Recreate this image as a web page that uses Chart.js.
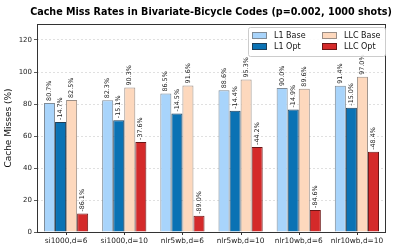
<!DOCTYPE html>
<html><head><meta charset="utf-8">
<script src="https://cdn.jsdelivr.net/npm/chart.js@4"></script>
<style>html,body{margin:0;padding:0;background:#fff}canvas{display:block}</style>
</head><body>
<canvas id="c" width="397" height="250"></canvas>
<script>
const categories = ['si1000,d=6','si1000,d=10','nlr5wb,d=6','nlr5wb,d=10','nlr10wb,d=6','nlr10wb,d=10'];
const l1Base = [80.7, 82.3, 86.5, 88.6, 90.0, 91.4];
const l1Opt = [68.8, 69.9, 74.0, 75.8, 76.6, 77.7];
const llcBase = [82.5, 90.3, 91.6, 95.3, 89.6, 97.0];
const llcOpt = [11.5, 56.3, 10.1, 53.2, 13.8, 50.1];
const l1Reduction = [-14.7, -15.1, -14.5, -14.4, -14.9, -15.0];
const llcReduction = [-86.1, -37.6, -89.0, -44.2, -84.6, -48.4];
const yTicks = [0, 20, 40, 60, 80, 100, 120];
const titleText = 'Cache Miss Rates in Bivariate-Bicycle Codes (p=0.002, 1000 shots)';
const yTitle = 'Cache Misses (%)';

const FONT = 'DejaVu Sans';
const colors = {
  l1Base: {bg:'#a8d4fb', bd:'#7f8b96'},
  l1Opt: {bg:'#0a72b4', bd:'#1d3e58'},
  llcBase: {bg:'#fdd8bd', bd:'#9a8e86'},
  llcOpt: {bg:'#d42a2a', bd:'#6b1616'}
};
const labelSets = [
  l1Base.map(v => v.toFixed(1) + '%'),
  l1Reduction.map(v => v.toFixed(1) + '%'),
  llcBase.map(v => v.toFixed(1) + '%'),
  llcReduction.map(v => v.toFixed(1) + '%')
];

const overlay = {
  id: 'overlay',
  afterDraw(chart) {
    const ctx = chart.ctx, a = chart.chartArea;
    ctx.save();
    ctx.fillStyle = '#000';
    ctx.font = 'bold 9.6px ' + FONT;
    ctx.textAlign = 'center'; ctx.textBaseline = 'middle';
    ctx.fillText(titleText, 211, 12);
    ctx.save();
    ctx.translate(9, (a.top + a.bottom) / 2);
    ctx.rotate(-Math.PI / 2);
    ctx.font = '9px ' + FONT;
    ctx.fillStyle = '#111';
    ctx.fillText(yTitle, 0, 0);
    ctx.restore();
    ctx.strokeStyle = '#333'; ctx.lineWidth = 1;
    ctx.strokeRect(Math.round(a.left) + 0.5, Math.round(a.top) + 0.5, Math.round(a.right - a.left) - 1, Math.round(a.bottom - a.top));
    // small x tick marks at category centers
    const xs = chart.scales.x;
    ctx.beginPath();
    categories.forEach((c, i) => {
      const px = Math.round(xs.getPixelForValue(i)) + 0.5;
      ctx.moveTo(px, Math.round(a.bottom)); ctx.lineTo(px, Math.round(a.bottom) + 3);
    });
    ctx.stroke();
    ctx.font = '6.4px ' + FONT;
    ctx.fillStyle = '#222';
    ctx.textAlign = 'left'; ctx.textBaseline = 'middle';
    chart.data.datasets.forEach((ds, i) => {
      const meta = chart.getDatasetMeta(i);
      meta.data.forEach((el, j) => {
        ctx.save();
        ctx.translate(el.x, el.y - 2);
        ctx.rotate(-Math.PI / 2);
        ctx.fillText(labelSets[i][j], 0, 0);
        ctx.restore();
      });
    });
    const lx = 248, ly = 27, lw = 137, lh = 29;
    ctx.fillStyle = 'rgba(255,255,255,0.85)';
    ctx.strokeStyle = '#ccc';
    ctx.beginPath(); ctx.roundRect(lx + 0.5, ly + 0.5, lw, lh, 2); ctx.fill(); ctx.stroke();
    const items = [
      [0, 0, 'L1 Base', colors.l1Base], [1, 0, 'LLC Base', colors.llcBase],
      [0, 1, 'L1 Opt', colors.l1Opt], [1, 1, 'LLC Opt', colors.llcOpt]
    ];
    ctx.font = '8px ' + FONT;
    items.forEach(([c, r, t, col]) => {
      const x = lx + 4 + c * 70, y = ly + 8 + r * 11;
      ctx.fillStyle = col.bg; ctx.strokeStyle = col.bd;
      ctx.fillRect(x, y - 3, 15, 6); ctx.strokeRect(x + 0.5, y - 2.5, 14, 6);
      ctx.fillStyle = '#111';
      ctx.fillText(t, x + 22, y + 0.5);
    });
    ctx.restore();
  }
};

function ds(label, data, col) {
  return {label, data, backgroundColor: col.bg, borderColor: col.bd, borderWidth: 1,
    barPercentage: 1, categoryPercentage: 0.76};
}

new Chart(document.getElementById('c'), {
  type: 'bar',
  data: {
    labels: categories,
    datasets: [
      ds('L1 Base', l1Base, colors.l1Base),
      ds('L1 Opt', l1Opt, colors.l1Opt),
      ds('LLC Base', llcBase, colors.llcBase),
      ds('LLC Opt', llcOpt, colors.llcOpt)
    ]
  },
  options: {
    responsive: false,
    devicePixelRatio: 1,
    animation: false,
    layout: {padding: {top: 24, right: 11, left: 0, bottom: 0}},
    plugins: {legend: {display: false}, title: {display: false}, tooltip: {enabled: false}},
    scales: {
      x: {
        grid: {display: false, drawTicks: true, tickLength: 3},
        border: {display: false},
        ticks: {color: '#222', font: {family: FONT, size: 7.4}, maxRotation: 0, autoSkip: false, padding: 2},
        afterFit(s) { s.height = 18; }
      },
      y: {
        min: 0, max: 130,
        afterBuildTicks(s) { s.ticks = yTicks.map(v => ({value: v})); },
        grid: {color: '#d8d8d8', lineWidth: 0.8, tickLength: 3, tickColor: '#333', tickBorderDash: [], drawTicks: true},
        border: {display: false, dash: [2, 2]},
        ticks: {color: '#222', font: {family: FONT, size: 7}, padding: 2},
        afterFit(s) { s.width = 37; }
      }
    }
  },
  plugins: [overlay]
});
</script>
</body></html>
